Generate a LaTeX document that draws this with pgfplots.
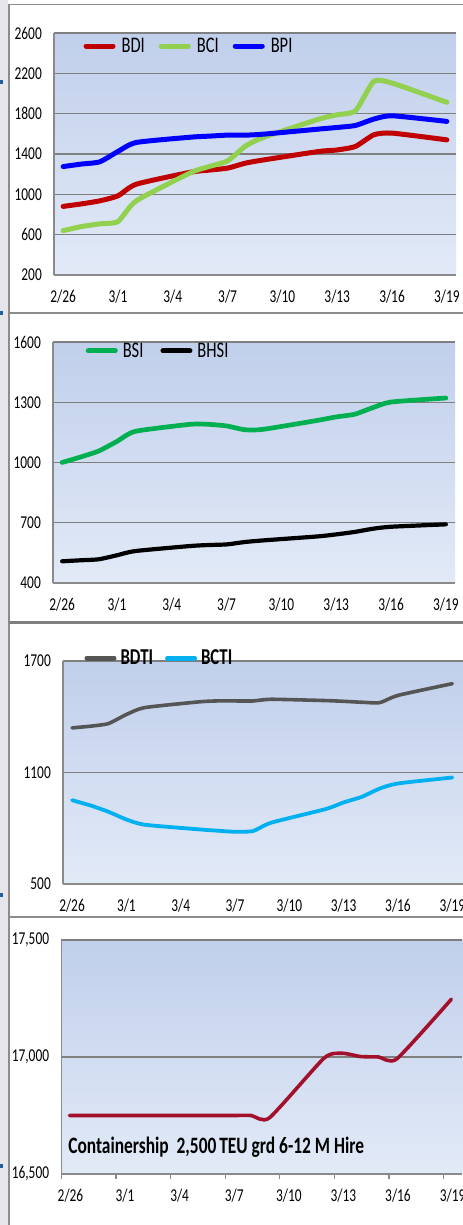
\documentclass[border=0pt]{standalone}
\usepackage{pgfplots}
\pgfplotsset{compat=1.18}
\usepackage{graphicx}
\usepackage{fontspec}
\setmainfont{Carlito}
\newcommand\vs[1]{\scalebox{1}[1.35]{#1}}
\newcommand\legtxt[1]{\fontsize{16.5bp}{17bp}\selectfont\vs{#1}}
\newcommand\legbf[1]{\fontsize{16.8bp}{17bp}\selectfont\bfseries\vs{#1}}
\definecolor{bgtop}{HTML}{C0CFEB}
\definecolor{bgmid}{HTML}{C5D4EE}
\definecolor{bgbot}{HTML}{E2EAF7}
\definecolor{axgray}{HTML}{8A8A8A}
\definecolor{gridgray}{HTML}{7F7F7F}
\definecolor{bordergray}{HTML}{8C8C8C}
\definecolor{stripgray}{HTML}{E6E6EA}
\definecolor{bdi}{HTML}{C00000}
\definecolor{bci}{HTML}{92D050}
\definecolor{bpi}{HTML}{0000FF}
\definecolor{bsi}{HTML}{00B050}
\definecolor{bdti}{HTML}{555555}
\definecolor{bcti}{HTML}{00B0F0}
\definecolor{cship}{HTML}{A3102C}
\definecolor{markblue}{HTML}{1F5F9F}
\newcommand\ticksize{\fontsize{13.4bp}{14bp}\selectfont}
\pgfplotsset{
  panel/.style={
    scale only axis, anchor=south west,
    xmin=-0.5, xmax=21.5,
    xtick={0,3,...,21},
    xticklabels={\vs{2/26},\vs{3/1},\vs{3/4},\vs{3/7},\vs{3/10},\vs{3/13},\vs{3/16},\vs{3/19}},
    axis background/.style={shade, top color=bgtop, middle color=bgmid, bottom color=bgbot},
    axis lines*=left,
    axis line style={draw=axgray, line width=1.3bp},
    ymajorgrids, grid style={draw=gridgray, line width=1.2bp},
    major tick length=0pt,
    scaled y ticks=false,
    tick label style={font=\ticksize, inner sep=0pt},
    xticklabel style={anchor=center, yshift=-22bp},
    yticklabel style={anchor=east, xshift=-12bp},
    legend style={draw=none, fill=none, inner sep=0pt, legend columns=-1,
      nodes={inner sep=0pt}},
    legend image code/.code={\draw[##1,line width=5bp,line cap=round] (0bp,0bp) -- (27bp,0bp);},
    every axis plot/.append style={smooth, tension=0.35, line cap=round, line join=round},
  }
}
\begin{document}
\begin{tikzpicture}[x=1bp,y=1bp]
\fill[white] (0,0) rectangle (470,1225);
\fill[stripgray] (0,0) rectangle (8,1225);
\fill[markblue] (0,1141) rectangle (3,1145);
\fill[markblue] (0,910) rectangle (3,914);
\fill[markblue] (0,328) rectangle (3,332);
\fill[markblue] (0,57) rectangle (3,61);
\draw[bordergray, line width=1.5bp] (9,0) -- (9,1220.5) -- (470,1220.5);
\draw[bordergray, line width=1.5bp] (9,912) -- (470,912);
\draw[gridgray, line width=2.6bp] (9,602.5) -- (470,602.5);
\draw[bordergray, line width=1.8bp] (9,308) -- (470,308);

% Panel 1
\begin{axis}[panel, at={(54bp,950bp)}, width=402bp, height=242bp,
  ymin=200, ymax=2600, ytick={200,600,...,2600},
  yticklabels={\vs{200},\vs{600},\vs{1000},\vs{1400},\vs{1800},\vs{2200},\vs{2600}},
  legend style={at={(0.073,0.946)}, anchor=west,
    /tikz/every odd column/.append style={column sep=6bp},
    /tikz/every even column/.append style={column sep=14bp}}]
\addplot[bdi, line width=5bp] coordinates {(0,880)(1,905)(2,935)(3,985)(4,1100)(7,1220)(8,1240)(9,1260)(10,1310)(11,1342)(14,1425)(15,1440)(16,1475)(17,1590)(18,1607)(21,1540)};
\addlegendentry{\legtxt{BDI}}
\addplot[bci, line width=5bp] coordinates {(0,640)(1,680)(2,707)(3,730)(4,935)(7,1216)(8,1276)(9,1332)(10,1481)(11,1567)(14,1746)(15,1789)(16,1829)(17,2120)(18,2103)(21,1912)};
\addlegendentry{\legtxt{BCI}}
\addplot[bpi, line width=5bp] coordinates {(0,1275)(1,1300)(2,1322)(3,1425)(4,1514)(7,1567)(8,1577)(9,1587)(10,1587)(11,1597)(14,1647)(15,1663)(16,1683)(17,1746)(18,1779)(21,1723)};
\addlegendentry{\legtxt{BPI}}
\end{axis}

% Panel 2
\begin{axis}[panel, at={(53bp,642bp)}, width=402bp, height=241bp,
  ymin=400, ymax=1600, ytick={400,700,...,1600},
  yticklabels={\vs{400},\vs{700},\vs{1000},\vs{1300},\vs{1600}},
  legend style={at={(0.081,0.963)}, anchor=west,
    /tikz/every odd column/.append style={column sep=5bp},
    /tikz/every even column/.append style={column sep=17bp}}]
\addplot[bsi, line width=4.7bp] coordinates {(0,1000)(1,1027)(2,1057)(3,1105)(4,1155)(7,1190)(8,1190)(9,1182)(10,1163)(11,1165)(14,1210)(15,1227)(16,1240)(17,1273)(18,1301)(21,1321)};
\addlegendentry{\legtxt{BSI}}
\addplot[black, line width=4.2bp] coordinates {(0,508)(1,513)(2,518)(3,538)(4,559)(7,584)(8,589)(9,592)(10,604)(11,612)(14,632)(15,642)(16,654)(17,670)(18,680)(21,692)};
\addlegendentry{\legtxt{BHSI}}
\end{axis}

% Panel 3
\begin{axis}[panel, at={(63bp,341bp)}, width=402bp, height=223bp,
  xmax=21.7,
  ymin=500, ymax=1700, ytick={500,1100,1700},
  yticklabels={\vs{500},\vs{1100},\vs{1700}},
  legend style={at={(0.053,1.013)}, anchor=west,
    /tikz/every odd column/.append style={column sep=4bp},
    /tikz/every even column/.append style={column sep=12bp}}]
\addplot[bdti, line width=3.6bp] coordinates {(0,1340)(1,1349)(2,1363)(3,1412)(4,1449)(7,1480)(8,1485)(9,1485)(10,1485)(11,1494)(14,1487)(15,1483)(16,1478)(17,1476)(18,1515)(21,1578)};
\addlegendentry{\legbf{BDTI}}
\addplot[bcti, line width=3.8bp] coordinates {(0,951)(1,923)(2,889)(3,847)(4,819)(7,794)(8,787)(9,781)(10,785)(11,830)(14,903)(15,939)(16,969)(17,1014)(18,1041)(21,1073)};
\addlegendentry{\legbf{BCTI}}
\end{axis}

% Panel 4
\begin{axis}[panel, at={(61.3bp,51bp)}, width=401bp, height=234bp,
  xmin=-0.44, xmax=21.6,
  xtick={-0.43,2.57,5.57,8.57,11.57,14.57,17.57,20.57},
  xticklabel style={xshift=9bp, yshift=5bp},
  yticklabel style={xshift=5bp},
  major tick length=5bp, tick align=outside,
  xtick style={draw=axgray, line width=1.3bp},
  ytick style={draw=none},
  ymin=16500, ymax=17500, ytick={16500,17000,17500},
  yticklabels={\vs{16,500},\vs{17,000},\vs{17,500}}]
\addplot[cship, line width=3.6bp] coordinates {(0,16750)(1,16750)(2,16750)(3,16750)(4,16750)(7,16750)(8,16750)(9,16750)(10,16750)(11,16740)(14,16995)(15,17016)(16,17002)(17,17000)(18,16992)(21,17247)};
\node[anchor=west, inner sep=0pt, font=\fontsize{17.4bp}{18bp}\selectfont\bfseries] at (axis description cs:0.017,0.115) {\vs{Containership\ \ 2,500\,TEU grd 6-12 M Hire}};
\end{axis}

\pgfresetboundingbox
\path[use as bounding box] (0,0) rectangle (463,1225);
\end{tikzpicture}
\end{document}
